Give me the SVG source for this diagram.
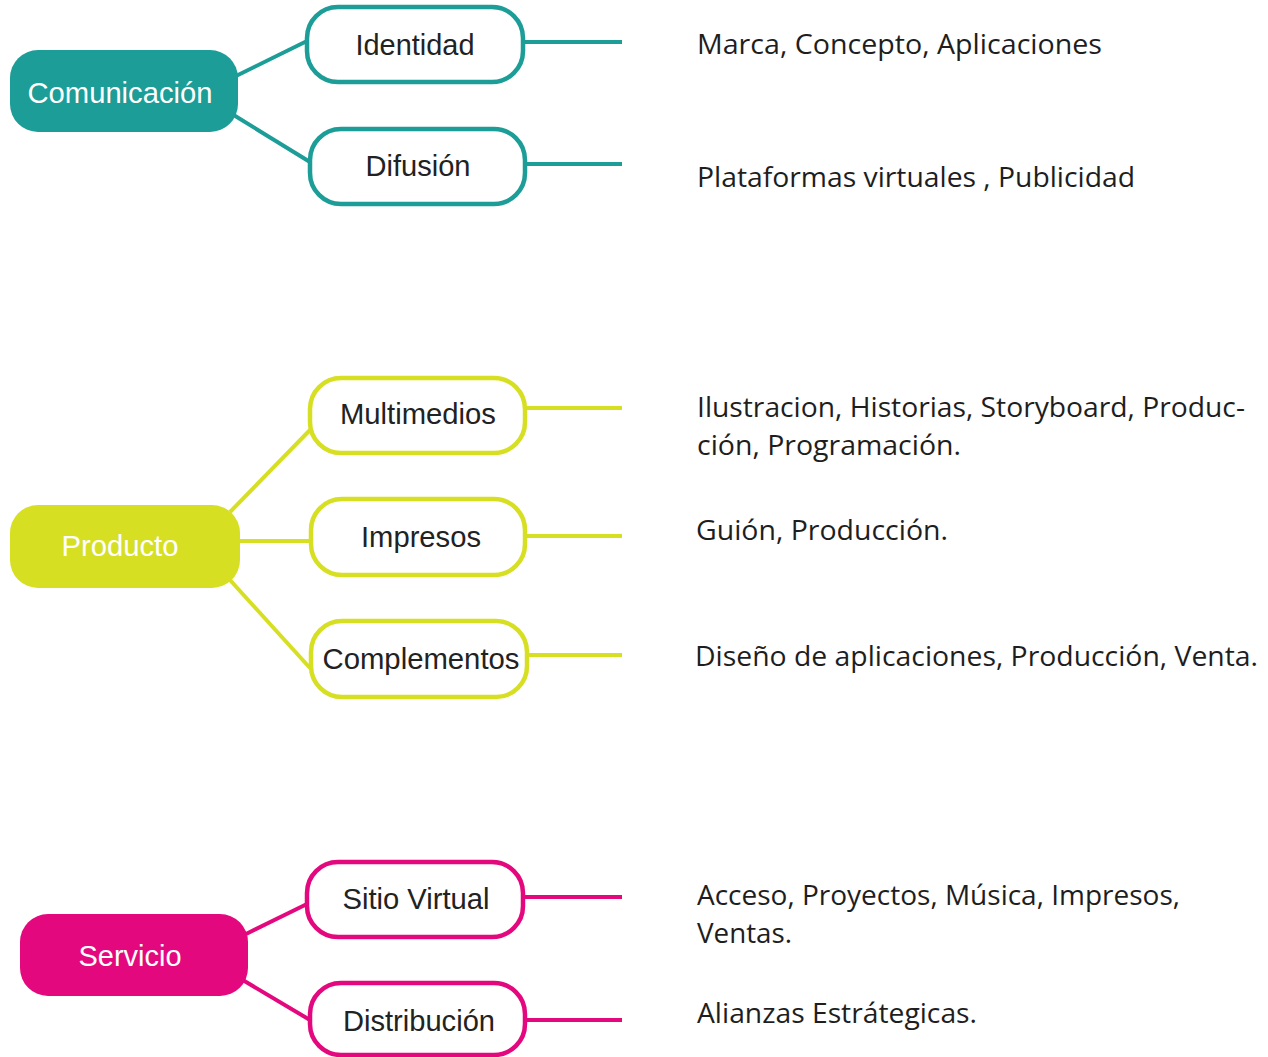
<svg xmlns="http://www.w3.org/2000/svg" width="1268" height="1057" viewBox="0 0 1268 1057">
<style>
.bg{fill:#ffffff}
.main{stroke:none}
.child{fill:#ffffff;stroke-width:4.5}
.mlabel{font-family:"Liberation Sans",Arial,sans-serif;font-size:29px;fill:#ffffff;text-anchor:middle}
.clabel{font-family:"Liberation Sans",Arial,sans-serif;font-size:30px;fill:#222222;text-anchor:middle}
.desc{font-family:"Open Sans","Noto Sans",sans-serif;font-size:28px;fill:#1e1e1e}
.conn line{stroke-width:4;stroke-linecap:butt}
.teal{stroke:#1c9d97}
.lime{stroke:#d7df23}
.pink{stroke:#e4087e}
</style>
<rect class="bg" x="0" y="0" width="1268" height="1057"/>

<g id="connectors" class="conn">
  <line class="teal" x1="236" y1="76" x2="307" y2="41"/>
  <line class="teal" x1="232" y1="114" x2="310" y2="162"/>
  <line class="teal" x1="522" y1="42" x2="622" y2="42"/>
  <line class="teal" x1="525" y1="164" x2="622" y2="164"/>

  <line class="lime" x1="230" y1="512" x2="310" y2="430"/>
  <line class="lime" x1="240" y1="541" x2="311" y2="541"/>
  <line class="lime" x1="230" y1="580" x2="310" y2="668"/>
  <line class="lime" x1="525" y1="408" x2="622" y2="408"/>
  <line class="lime" x1="525" y1="536" x2="622" y2="536"/>
  <line class="lime" x1="527" y1="655" x2="622" y2="655"/>

  <line class="pink" x1="244" y1="935" x2="307" y2="904"/>
  <line class="pink" x1="236" y1="976" x2="310" y2="1020"/>
  <line class="pink" x1="523" y1="897" x2="622" y2="897"/>
  <line class="pink" x1="525" y1="1020" x2="622" y2="1020"/>
</g>

<g id="node-comunicacion">
  <rect class="main" x="10" y="50" width="228" height="82" rx="28" fill="#1c9d97"/>
  <text class="mlabel" x="120" y="103" textLength="185" lengthAdjust="spacingAndGlyphs">Comunicación</text>
</g>
<g id="node-identidad">
  <rect class="child" x="307" y="7" width="216" height="75" rx="31" stroke="#1c9d97"/>
  <text class="clabel" x="415" y="55" textLength="119" lengthAdjust="spacingAndGlyphs">Identidad</text>
</g>
<g id="node-difusion">
  <rect class="child" x="310" y="129" width="215" height="75" rx="31" stroke="#1c9d97"/>
  <text class="clabel" x="418" y="176" textLength="105" lengthAdjust="spacingAndGlyphs">Difusión</text>
</g>

<g id="node-producto">
  <rect class="main" x="10" y="505" width="230" height="83" rx="28" fill="#d7df23"/>
  <text class="mlabel" x="120" y="556" textLength="117" lengthAdjust="spacingAndGlyphs">Producto</text>
</g>
<g id="node-multimedios">
  <rect class="child" x="310" y="378" width="215" height="75" rx="31" stroke="#d7df23"/>
  <text class="clabel" x="418" y="424" textLength="156" lengthAdjust="spacingAndGlyphs">Multimedios</text>
</g>
<g id="node-impresos">
  <rect class="child" x="311" y="499" width="214" height="76" rx="31" stroke="#d7df23"/>
  <text class="clabel" x="421" y="547" textLength="120" lengthAdjust="spacingAndGlyphs">Impresos</text>
</g>
<g id="node-complementos">
  <rect class="child" x="311" y="621" width="216" height="76" rx="31" stroke="#d7df23"/>
  <text class="clabel" x="421" y="669" textLength="197" lengthAdjust="spacingAndGlyphs">Complementos</text>
</g>

<g id="node-servicio">
  <rect class="main" x="20" y="914" width="228" height="82" rx="28" fill="#e4087e"/>
  <text class="mlabel" x="130" y="966" textLength="103" lengthAdjust="spacingAndGlyphs">Servicio</text>
</g>
<g id="node-sitio-virtual">
  <rect class="child" x="307" y="862" width="216" height="75" rx="31" stroke="#e4087e"/>
  <text class="clabel" x="416" y="909" textLength="147" lengthAdjust="spacingAndGlyphs">Sitio Virtual</text>
</g>
<g id="node-distribucion">
  <rect class="child" x="310" y="983" width="215" height="72" rx="31" stroke="#e4087e"/>
  <text class="clabel" x="419" y="1031" textLength="152" lengthAdjust="spacingAndGlyphs">Distribución</text>
</g>

<g id="descriptions">
  <text class="desc" x="697" y="54" textLength="405" lengthAdjust="spacingAndGlyphs">Marca, Concepto, Aplicaciones</text>
  <text class="desc" x="697" y="187" textLength="438" lengthAdjust="spacingAndGlyphs">Plataformas virtuales , Publicidad</text>
  <text class="desc" x="697" y="417" textLength="548" lengthAdjust="spacingAndGlyphs">Ilustracion, Historias, Storyboard, Produc-</text>
  <text class="desc" x="697" y="455" textLength="264" lengthAdjust="spacingAndGlyphs">ción, Programación.</text>
  <text class="desc" x="696" y="540" textLength="252" lengthAdjust="spacingAndGlyphs">Guión, Producción.</text>
  <text class="desc" x="695" y="666" textLength="563" lengthAdjust="spacingAndGlyphs">Diseño de aplicaciones, Producción, Venta.</text>
  <text class="desc" x="697" y="905" textLength="483" lengthAdjust="spacingAndGlyphs">Acceso, Proyectos, Música, Impresos,</text>
  <text class="desc" x="697" y="943" textLength="95" lengthAdjust="spacingAndGlyphs">Ventas.</text>
  <text class="desc" x="697" y="1023" textLength="280" lengthAdjust="spacingAndGlyphs">Alianzas Estrátegicas.</text>
</g>
</svg>
